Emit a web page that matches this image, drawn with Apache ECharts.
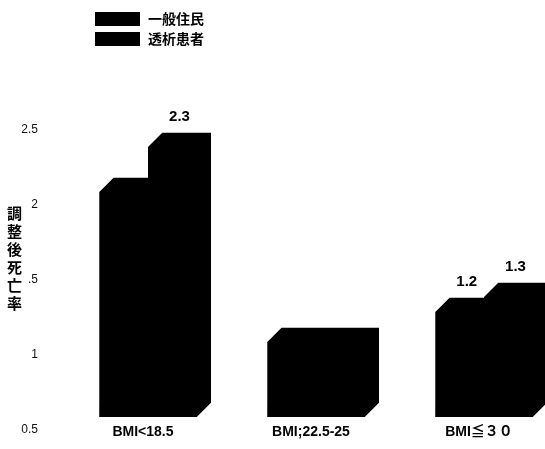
<!DOCTYPE html>
<html>
<head>
<meta charset="utf-8">
<script src="https://cdn.jsdelivr.net/npm/echarts@6/dist/echarts.min.js"></script>
<style>
html,body{margin:0;padding:0;background:#fff;}
#chart{width:545px;height:449px;}
</style>
</head>
<body>
<div id="chart"></div>
<script>
// 分類・数値
var categories = ['BMI<18.5', 'BMI;22.5-25', 'BMI≦３０'];
var seriesNames = ['一般住民', '透析患者'];
var generalValues = [2.0, 1.0, 1.2];
var dialysisValues = [2.3, 1.0, 1.3];
var generalLabels = ['', '', '1.2'];
var dialysisLabels = ['2.3', '', '1.3'];
var yTickLabels = ['0.5', '1', '.5', '2', '2.5'];
var yTitle = '調整後死亡率';

var Y_MIN = 0.5;

var myChart = echarts.init(document.getElementById('chart'));

// 立体風の棒（前面＋上面＋側面を一つの多角形で塗る）
function makeRender(side, labels) {
    return function (params, api) {
        var idx = api.value(0);
        var val = api.value(1);
        var base = api.coord([idx, Y_MIN]);
        var top = api.coord([idx, val]);
        var band = api.size([1, 0])[0];
        var w = band * 0.29;
        var d = band * 0.085;
        var x0 = side === 0 ? base[0] - w : base[0];
        var x1 = x0 + w;
        var yb = base[1], yt = top[1];
        var children = [{
            type: 'polygon',
            shape: {
                points: [[x0, yb], [x0, yt], [x0 + d, yt - d], [x1 + d, yt - d], [x1 + d, yb - d], [x1, yb]]
            },
            style: { fill: '#000' }
        }];
        var txt = labels[idx];
        if (txt) {
            children.push({
                type: 'text',
                style: {
                    text: txt,
                    x: (x0 + x1) / 2 + d / 2,
                    y: yt - d - 8,
                    align: 'center',
                    verticalAlign: 'bottom',
                    fill: '#000',
                    font: 'bold 15px "Liberation Sans", Arial, sans-serif'
                }
            });
        }
        return { type: 'group', children: children };
    };
}

function toData(values) {
    return values.map(function (v, i) { return [i, v]; });
}

var option = {
    animation: false,
    legend: {
        orient: 'vertical',
        left: 95,
        top: 12,
        padding: 0,
        itemWidth: 45,
        itemHeight: 14,
        itemGap: 6,
        icon: 'rect',
        data: seriesNames,
        textStyle: {
            fontFamily: '"Noto Sans CJK JP", sans-serif',
            fontWeight: 'bold',
            fontSize: 14,
            color: '#000',
            padding: [0, 0, 0, 3]
        }
    },
    grid: {
        left: 64,
        top: 117,
        width: 504,
        height: 300,
        outerBoundsMode: 'none'
    },
    xAxis: {
        type: 'category',
        data: categories,
        axisLine: { show: false },
        axisTick: { show: false },
        axisLabel: {
            margin: 8,
            padding: [0, 10, 0, 0],
            fontFamily: '"Liberation Sans", Arial, "Noto Sans CJK JP", sans-serif',
            fontWeight: 'bold',
            fontSize: 14,
            color: '#000'
        }
    },
    yAxis: {
        type: 'value',
        min: 0.5,
        max: 2.5,
        interval: 0.5,
        axisLine: { show: false },
        axisTick: { show: false },
        splitLine: { show: false },
        axisLabel: {
            margin: 26,
            fontFamily: '"Liberation Sans", Arial, sans-serif',
            fontSize: 12,
            color: '#111',
            verticalAlign: 'top',
            lineHeight: 26,
            formatter: function (value, index) {
                return yTickLabels[index];
            }
        }
    },
    graphic: [{
        type: 'text',
        left: 7,
        top: 204,
        style: {
            text: yTitle.split('').join('\n'),
            font: 'bold 15px "Noto Sans CJK JP", sans-serif',
            lineHeight: 18,
            fill: '#000'
        }
    }],
    series: [{
        name: seriesNames[0],
        type: 'custom',
        itemStyle: { color: '#000' },
        encode: { x: 0, y: 1 },
        data: toData(generalValues),
        renderItem: makeRender(0, generalLabels)
    }, {
        name: seriesNames[1],
        type: 'custom',
        itemStyle: { color: '#000' },
        encode: { x: 0, y: 1 },
        data: toData(dialysisValues),
        renderItem: makeRender(1, dialysisLabels)
    }]
};

myChart.setOption(option);
</script>
</body>
</html>
